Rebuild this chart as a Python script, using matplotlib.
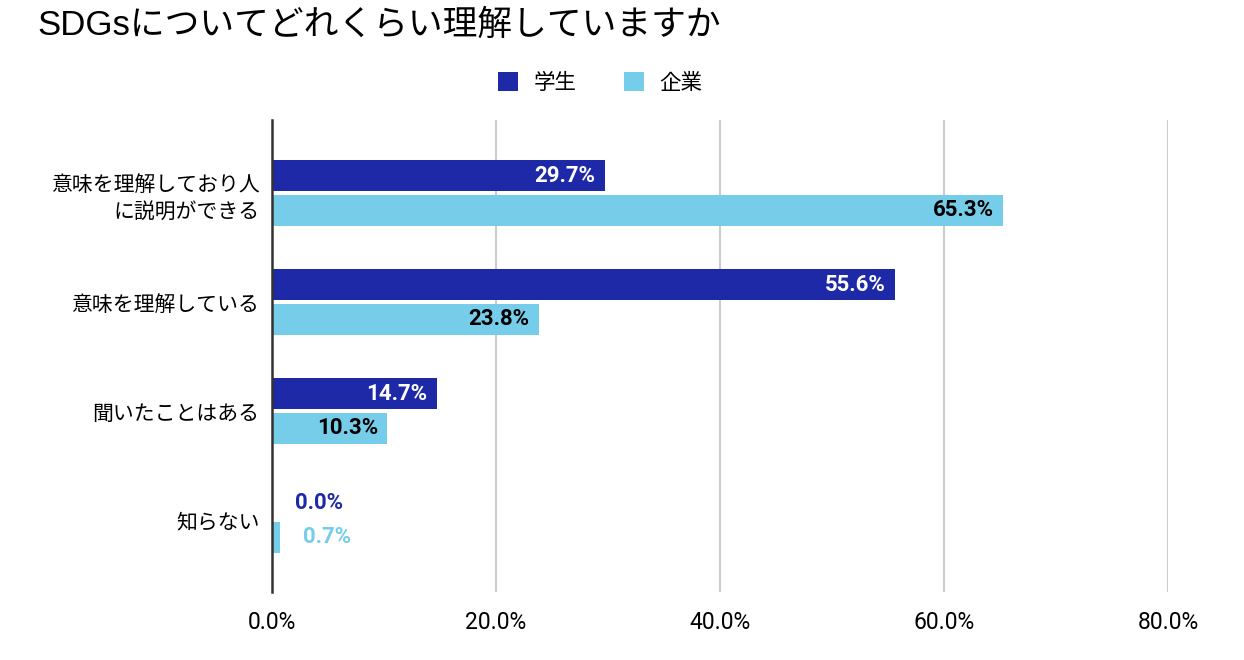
import numpy as np
import matplotlib
matplotlib.use('Agg')
import matplotlib.pyplot as plt
from matplotlib.patches import Patch

# data
categories = ['意味を理解しており人\nに説明ができる', '意味を理解している', '聞いたことはある', '知らない']
series = ['学生', '企業']
students = [29.7, 55.6, 14.7, 0.0]
companies = [65.3, 23.8, 10.3, 0.7]
xticks = [0, 20, 40, 60, 80]

colors = ['#1e29a8', '#75cdea']
label_colors = ['white', 'black']
jp = ['Noto Sans CJK JP', 'DejaVu Sans']
title_font = ['Liberation Sans', 'Noto Sans CJK JP']

fig = plt.figure(figsize=(12.44, 6.6), dpi=100)
ax = fig.add_axes([272/1244, 1-592/660, (1168-272)/1244, (592-120)/660])

y = np.arange(len(categories))
h = 0.285
off = 0.16
vals = [students, companies]
for k in range(2):
    ypos = y - off if k == 0 else y + off
    ax.barh(ypos, vals[k], height=h, color=colors[k], zorder=3)
    for yy, v in zip(ypos, vals[k]):
        txt = f'{v:.1f}%'
        if v > 5:
            ax.annotate(txt, (v, yy), xytext=(-9, 0), textcoords='offset pixels',
                        ha='right', va='center', fontsize=16, fontweight='bold',
                        family='Roboto', color=label_colors[k], zorder=4)
        else:
            ax.annotate(txt, (v, yy), xytext=(23, 0), textcoords='offset pixels',
                        ha='left', va='center', fontsize=16, fontweight='bold',
                        family='Roboto', color=colors[k], zorder=4)

ax.set_xlim(0, 80)
ax.set_ylim(3.66, -0.67)
ax.set_xticks(xticks)
ax.set_xticklabels([f'{t:.1f}%' for t in xticks], family='Roboto', fontsize=16.5)
ax.set_yticks(y)
ax.set_yticklabels(categories, family=jp, fontsize=15, linespacing=1.3)
ax.tick_params(axis='both', length=0)
ax.tick_params(axis='x', pad=14)
ax.tick_params(axis='y', pad=9)
ax.grid(axis='x', color='#cccccc', lw=1.5, zorder=0)
for s in ['top', 'right', 'bottom']:
    ax.spines[s].set_visible(False)
ax.spines['left'].set_color('#333333')
ax.spines['left'].set_linewidth(1.8)
ax.spines['left'].set_zorder(5)

fig.text(37/1244, 1-25/660, 'SDGsについてどれくらい理解していますか', family=title_font,
         fontsize=25, ha='left', va='center')

handles = [Patch(facecolor=c, edgecolor='none') for c in colors]
fig.legend(handles, series, loc='center', bbox_to_anchor=(600/1244, 1-83/660), ncol=2,
           frameon=False, prop={'family': jp, 'size': 15.5}, handlelength=0.95, handleheight=0.95,
           columnspacing=2.2, handletextpad=0.7)

fig.savefig('out.png', dpi=100, facecolor='white')
